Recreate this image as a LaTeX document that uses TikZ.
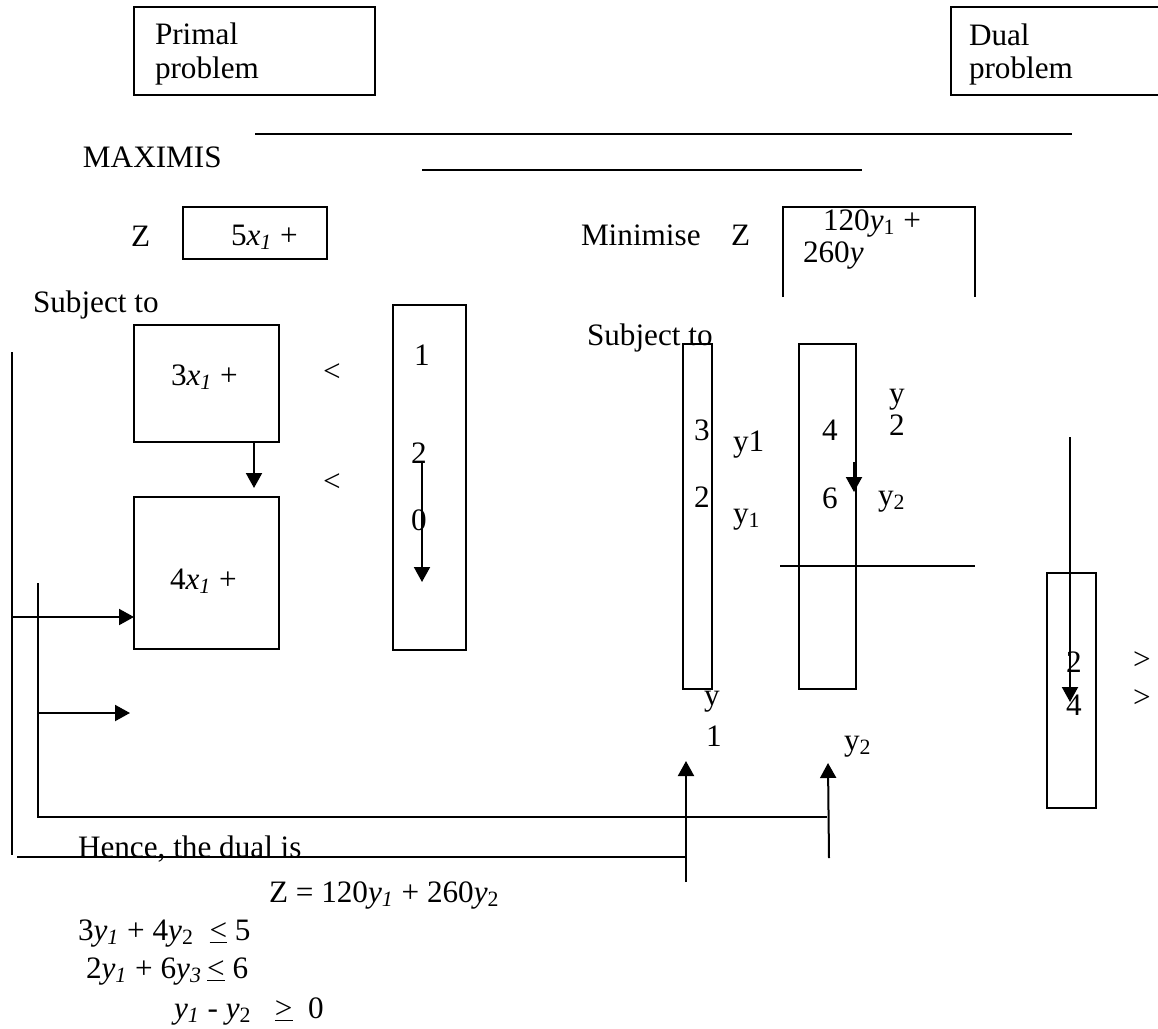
\documentclass[tikz,border=0pt]{standalone}
\usepackage{fontspec}
\setmainfont{Liberation Serif}
\usetikzlibrary{arrows.meta}

\begin{document}
\begin{tikzpicture}[x=0.5pt,y=-0.5pt,line width=1pt,>={Triangle[length=7.5pt,width=8pt]},
  font=\fontsize{15.6}{18}\selectfont,
  txt/.style={anchor=base west,inner sep=0pt},
  box/.style={draw,anchor=north west,inner sep=0pt,outer sep=0pt}]
\useasboundingbox (0,0) rectangle (1158,1029);

\node[box,minimum width=120.5pt,minimum height=44pt] (primal) at (134,7) {};
\node[txt] (primal1) at (154,44) {Primal};
\node[txt] (primal2) at (154,78) {problem};
\draw (1158,7) -| (951,95) -- (1158,95);
\node[txt] (dual1) at (968,45) {Dual};
\node[txt] (dual2) at (968,78) {problem};

\draw (255,134) -- (1072,134);
\draw (422,170) -- (862,170);
\node[txt] (maxi) at (82,167) {MAXIMIS};

\node[txt] (zp) at (130,246) {Z};
\node[box,minimum width=72pt,minimum height=26pt] (obj) at (183,207) {};
\node[txt] (objt) at (230,245) {5\textit{x\textsubscript{1}} +};

\node[txt] (mini) at (580,245) {Minimise};
\node[txt] (zd) at (730,245) {Z};
\draw (783,297) |- (975,207) -- (975,297);
\node[txt] (dobj1) at (822,230) {120\textit{y}\textsubscript{1} +};
\node[txt] (dobj2) at (802,262) {260\textit{y}};

\node[txt] (subj) at (32,312) {Subject to};
\node[box,minimum width=72.5pt,minimum height=58.5pt] (c1) at (134,325) {};
\node[txt] (c1t) at (170,385) {3\textit{x\textsubscript{1}} +};
\node[box,minimum width=72.5pt,minimum height=76pt] (c2) at (134,497) {};
\node[txt] (c2t) at (169,589) {4\textit{x\textsubscript{1}} +};
\coordinate (c1tip) at (254,488);
\draw[->] (c1.south -| c1tip) -- (c1tip);
\node[txt] (lt1) at (322,381) {<};
\node[txt] (lt2) at (322,491) {<};

\node[box,minimum width=36.5pt,minimum height=172.5pt] (rhs) at (393,305) {};
\node[txt] (rhs1) at (413,365) {1};
\node[txt] (rhs2) at (410,463) {2};
\node[txt] (rhs3) at (410,530) {0};
\coordinate (rtop) at (422,463);
\coordinate (rtip) at (422,582);
\draw[->] (rtop) -- (rtip);

\coordinate (lt) at (12,352);
\coordinate (lb) at (12,855);
\draw (lt) -- (lb);
\coordinate (la) at (12,617);
\draw[->] (la) -- (la -| c2.west);
\coordinate (it) at (38,583);
\coordinate (ib) at (38,817);
\coordinate (ir) at (827,817);
\draw (it) -- (ib) -- (ir);
\coordinate (ia) at (38,713);
\coordinate (iah) at (130,713);
\draw[->] (ia) -- (iah);

\node[txt] (hence) at (77,857) {Hence, the dual is};
\coordinate (hl) at (17,857);
\coordinate (hr) at (686,857);
\draw (hl) -- (hr);
\coordinate (u1b) at (686,882);
\coordinate (u1t) at (686,761);
\draw[->] (u1b) -- (u1t);
\coordinate (u2b) at (829,858);
\coordinate (u2t) at (828,763);
\draw[->] (u2b) -- (u2t);

\node[txt] (subd) at (586,345) {Subject to};
\node[box,minimum width=14.5pt,minimum height=172.5pt] (d1) at (683,344) {};
\node[box,minimum width=28.5pt,minimum height=172.5pt] (d2) at (799,344) {};
\node[txt] (d1a) at (693,440) {3};
\node[txt] (d1b) at (693,507) {2};
\node[txt] (y1a) at (732,451) {y1};
\node[txt] (y1b) at (732,523) {y\textsubscript{1}};
\node[txt] (d2a) at (821,440) {4};
\node[txt] (d2b) at (821,508) {6};
\node[txt] (y2a) at (888,403) {y};
\node[txt] (y2an) at (888,435) {2};
\node[txt] (y2b) at (877,505) {y\textsubscript{2}};
\coordinate (dtop) at (854,462);
\coordinate (dtip) at (854,492);
\draw[->] (dtop) -- (dtip);
\draw[line width=0.8pt] (780,566) -- (975,566);
\node[txt] (yl1) at (703,705) {y};
\node[txt] (yl1n) at (705,746) {1};
\node[txt] (yl2) at (843,750) {y\textsubscript{2}};

\node[box,minimum width=24.5pt,minimum height=117.5pt] (drhs) at (1047,573) {};
\node[txt] (drhs1) at (1065,672) {2};
\node[txt] (drhs2) at (1065,715) {4};
\coordinate (vtop) at (1070,437);
\coordinate (vtip) at (1070,702);
\draw[->] (vtop) -- (vtip);
\node[txt] (gt1) at (1132,669) {>};
\node[txt] (gt2) at (1132,707) {>};

\node[txt] (dz) at (268,902) {Z = 120\textit{y\textsubscript{1}} + 260\textit{y}\textsubscript{2}};
\node[txt] (dc1) at (77,940) {3\textit{y\textsubscript{1}} + 4\textit{y}\textsubscript{2} \ \underline{<} 5};
\node[txt] (dc2) at (85,978) {2\textit{y\textsubscript{1}} + 6\textit{y\textsubscript{3}}\,\underline{<} 6};
\node[txt] (dc3) at (173,1018) {\textit{y\textsubscript{1}} - \textit{y}\textsubscript{2} \ \ \underline{>} \ 0};
\end{tikzpicture}
\end{document}
